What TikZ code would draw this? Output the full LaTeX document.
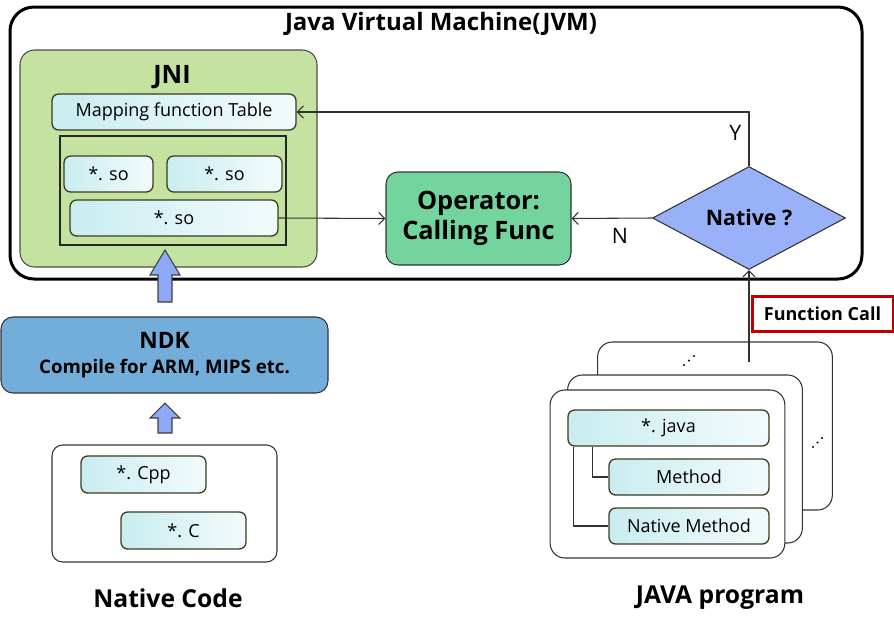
\documentclass[tikz,border=0pt]{standalone}
\usepackage{fontspec}
\setmainfont{Open Sans}
\usetikzlibrary{shapes.geometric,arrows.meta}
\definecolor{jnigreen}{HTML}{C4E3A0}
\definecolor{opgreen}{HTML}{73D49D}
\definecolor{ndkblue}{HTML}{73AEDB}
\definecolor{native}{HTML}{8EA9F7}
\definecolor{fileleft}{HTML}{C9EDF0}
\definecolor{fileright}{HTML}{F3FBFC}
\definecolor{fileline}{HTML}{3C3C1E}
\definecolor{callred}{HTML}{C00000}
\tikzset{
  file/.style={draw=fileline, line width=1pt, rounded corners=5pt, left color=fileleft, right color=fileright, minimum height=27pt, inner sep=0pt, font=\fontsize{13.5}{16}\selectfont},
  card/.style={draw=black!80, line width=0.8pt, rounded corners=11pt, fill=white, minimum width=176pt, minimum height=126pt},
  link/.style={draw=black!80, line width=0.8pt, -{Straight Barb[length=4.5pt,width=9pt]}},
  blockarrow/.style={draw=black!75, line width=0.8pt, fill=native},
  caption/.style={font=\bfseries\fontsize{18.5}{22}\selectfont}
}
\begin{document}
\begin{tikzpicture}[x=0.75pt,y=-0.75pt]
\useasboundingbox (0,0) rectangle (894,626);
% JVM
\node[draw, line width=2.25pt, rounded corners=18pt, minimum width=639pt, minimum height=204pt] (jvm) at (436,143) {};
\node[font=\bfseries\fontsize{18}{21}\selectfont] (jvmtitle) at (441,24) {Java Virtual Machine(JVM)};
% JNI
\node[draw=black!70, line width=0.8pt, rounded corners=11pt, fill=jnigreen, minimum width=222.75pt, minimum height=162.75pt] (jni) at (168.5,158.5) {};
\node[font=\bfseries\fontsize{19}{22}\selectfont] (jnititle) at (172,77) {JNI};
\node[file, minimum width=183pt] (map) at (174,112) {Mapping function Table};
\node[draw=black!85, line width=0.8pt, minimum width=169.5pt, minimum height=81.75pt] (solib) at (173,190.5) {};
\node[file, minimum width=66.75pt] (so1) at (108.5,174) {*. so};
\node[file, minimum width=86.25pt] (so2) at (224.5,174) {*. so};
\node[file, minimum width=156pt] (so3) at (174,218) {*. so};
% operator and decision
\node[draw=black!80, line width=0.8pt, rounded corners=9pt, fill=opgreen, minimum width=138.75pt, minimum height=69.75pt, align=center, font=\bfseries\fontsize{19}{23}\selectfont] (op) at (478.5,218.5) {Operator:\\Calling Func};
\node[diamond, draw=black!80, line width=0.8pt, fill=native, fill opacity=0.9, text opacity=1, inner sep=0pt, minimum width=144.75pt, minimum height=54pt, font=\bfseries\fontsize{16}{19}\selectfont] (isnative) at (749,218) {Native ?};
\draw[link] (so3.east) -- (op.west);
\draw[link] (isnative.west) -- node[below, pos=0.4, yshift=-4pt, font=\fontsize{16}{19}\selectfont] {N} (op.east);
\draw[link] (isnative.north) -- node[left, pos=0.62, xshift=-2pt, font=\fontsize{16}{19}\selectfont] {Y} (isnative.north |- map.east) -- (map.east);
% NDK
\node[draw=black!80, line width=0.8pt, rounded corners=9pt, fill=ndkblue, minimum width=245.25pt, minimum height=57pt, align=center, font=\bfseries\fontsize{14}{19}\selectfont] (ndk) at (164.5,355) {{\fontsize{17}{19}\selectfont NDK}\\Compile for ARM, MIPS etc.};
\draw[blockarrow] (158,302) -- (158,275) -- (150,275) -- (165,250) -- (180,275) -- (172,275) -- (172,302) -- cycle;
\draw[blockarrow] (158,433) -- (158,418) -- (150,418) -- (165,403) -- (180,418) -- (172,418) -- (172,433) -- cycle;
% native code
\node[draw=black!80, line width=0.8pt, rounded corners=8pt, minimum width=168.75pt, minimum height=87.75pt] (ncode) at (164.5,503.5) {};
\node[file, minimum width=93.75pt, minimum height=27.75pt] (cpp) at (143.5,474.5) {*. Cpp};
\node[file, minimum width=93.75pt, minimum height=27.75pt] (cfile) at (183.5,530.5) {*. C};
\node[caption] (ncodetitle) at (168,598) {Native Code};
% java program
\node[card] (back) at (715,426) {};
\node[card] (middle) at (685,459) {};
\node[card] (front) at (667.5,474) {};
\foreach \x/\y in {684/365, 689/360.5, 694/356, 813/447, 817.5/442.5, 822/438}
  \fill (\x,\y) circle (0.9pt);
\node[file, minimum width=150.75pt] (java) at (668.5,428) {*. java};
\node[file, minimum width=120pt] (method) at (689,477) {Method};
\node[file, minimum width=120pt] (nmethod) at (689,526) {Native Method};
\draw[draw=black!80, line width=0.8pt] ([xshift=-57pt]java.south) |- (method.west);
\draw[draw=black!80, line width=0.8pt] ([xshift=-71pt]java.south) |- (nmethod.west);
\coordinate (callfoot) at (749,362);
\draw[link] (callfoot) -- (isnative.south);
\node[draw=callred, line width=2.25pt, fill=white, minimum width=105.75pt, minimum height=26.25pt, font=\bfseries\fontsize{13.5}{16}\selectfont] (call) at (822.5,313.5) {Function Call};
\node[caption] (javatitle) at (720,598) {JAVA program};
\end{tikzpicture}
\end{document}
